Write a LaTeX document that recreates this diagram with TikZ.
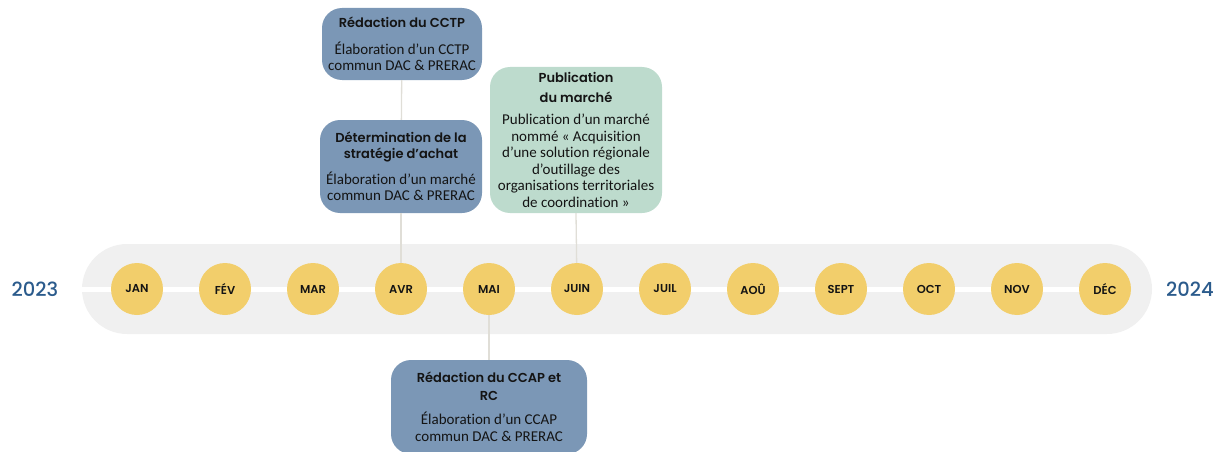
\documentclass[tikz,border=0pt]{standalone}
\usepackage{fontspec}
\setmainfont{Carlito}[Ligatures=NoCommon]
\newfontfamily\geo{Poppins Medium}
\newfontfamily\geosb{Poppins SemiBold}
\definecolor{bandgrey}{RGB}{240,240,240}
\definecolor{monthyellow}{RGB}{242,206,107}
\definecolor{boxblue}{RGB}{123,151,182}
\definecolor{boxgreen}{RGB}{189,219,205}
\definecolor{yearblue}{RGB}{43,91,140}
\definecolor{connc}{RGB}{224,222,215}
\definecolor{txt}{RGB}{20,20,20}
\tikzset{
  bandshape/.style={fill=bandgrey, rounded corners=45pt, minimum width=1070pt, minimum height=90pt, inner sep=0pt},
  month/.style={circle, fill=monthyellow, minimum size=52pt, inner sep=0pt, font=\geosb\fontsize{11.5}{13}\selectfont, text=txt},
  evbox/.style={rounded corners=20pt, inner sep=0pt, align=center, text=txt, font=\fontsize{15}{16.5}\selectfont},
  bluebox/.style={evbox, fill=boxblue},
  greenbox/.style={evbox, fill=boxgreen},
  year/.style={font=\geo\fontsize{19.5}{22}\selectfont, text=yearblue},
  conn/.style={draw=connc, line width=1.3pt}
}
\newcommand{\ttlf}{\geosb\fontsize{13}{19}\selectfont}
\begin{document}
\begin{tikzpicture}[x=1pt,y=-1pt]
\useasboundingbox (0,0) rectangle (1226,452);
\node[bandshape] (band) at (617,289) {};
\foreach \m [count=\i] in {JAN,FÉV,MAR,AVR,MAI,JUIN,JUIL,AOÛ,SEPT,OCT,NOV,DÉC}{
  \coordinate (c\i) at ({137+88*(\i-1)},289);
}
\draw[white, line width=5pt] (band.west) -- (c12);
\node[year] (y1) at (35,289) {2023};
\node[year] (y2) at (1190,289) {2024};
% boxes
\node[bluebox, minimum width=160pt, minimum height=72pt] (cctp) at (402,44)
  {{\ttlf Rédaction du CCTP}\\[10pt]Élaboration d’un CCTP\\commun DAC \& PRERAC};
\node[bluebox, minimum width=162pt, minimum height=93pt] (det) at (401,166.5)
  {{\ttlf Détermination de la}\\[0pt]{\ttlf stratégie d’achat}\\[9pt]Élaboration d’un marché\\commun DAC \& PRERAC};
\node[greenbox, minimum width=172pt, minimum height=146pt] (pub) at (576,140)
  {{\ttlf Publication}\\[3pt]{\ttlf du marché}\\[6pt]Publication d’un marché\\nommé «~Acquisition\\d’une solution régionale\\d’outillage des\\organisations territoriales\\de coordination~»};
\node[bluebox, minimum width=196pt, minimum height=94pt] (ccap) at (489,407)
  {{\ttlf Rédaction du CCAP et}\\[1pt]{\ttlf RC}\\[8pt]Élaboration d’un CCAP\\commun DAC \& PRERAC};
% connectors
\draw[conn] (cctp) -- (det);
\draw[conn] (det.south) -- (c4);
\draw[conn] (pub.south) -- (c6);
\draw[conn] (c5) -- (ccap.north);
% months
\foreach \m [count=\i] in {JAN,FÉV,MAR,AVR,MAI,JUIN,JUIL,AOÛ,SEPT,OCT,NOV,DÉC}{
  \node[month] (m\i) at (c\i) {\m};
}
\end{tikzpicture}
\end{document}
